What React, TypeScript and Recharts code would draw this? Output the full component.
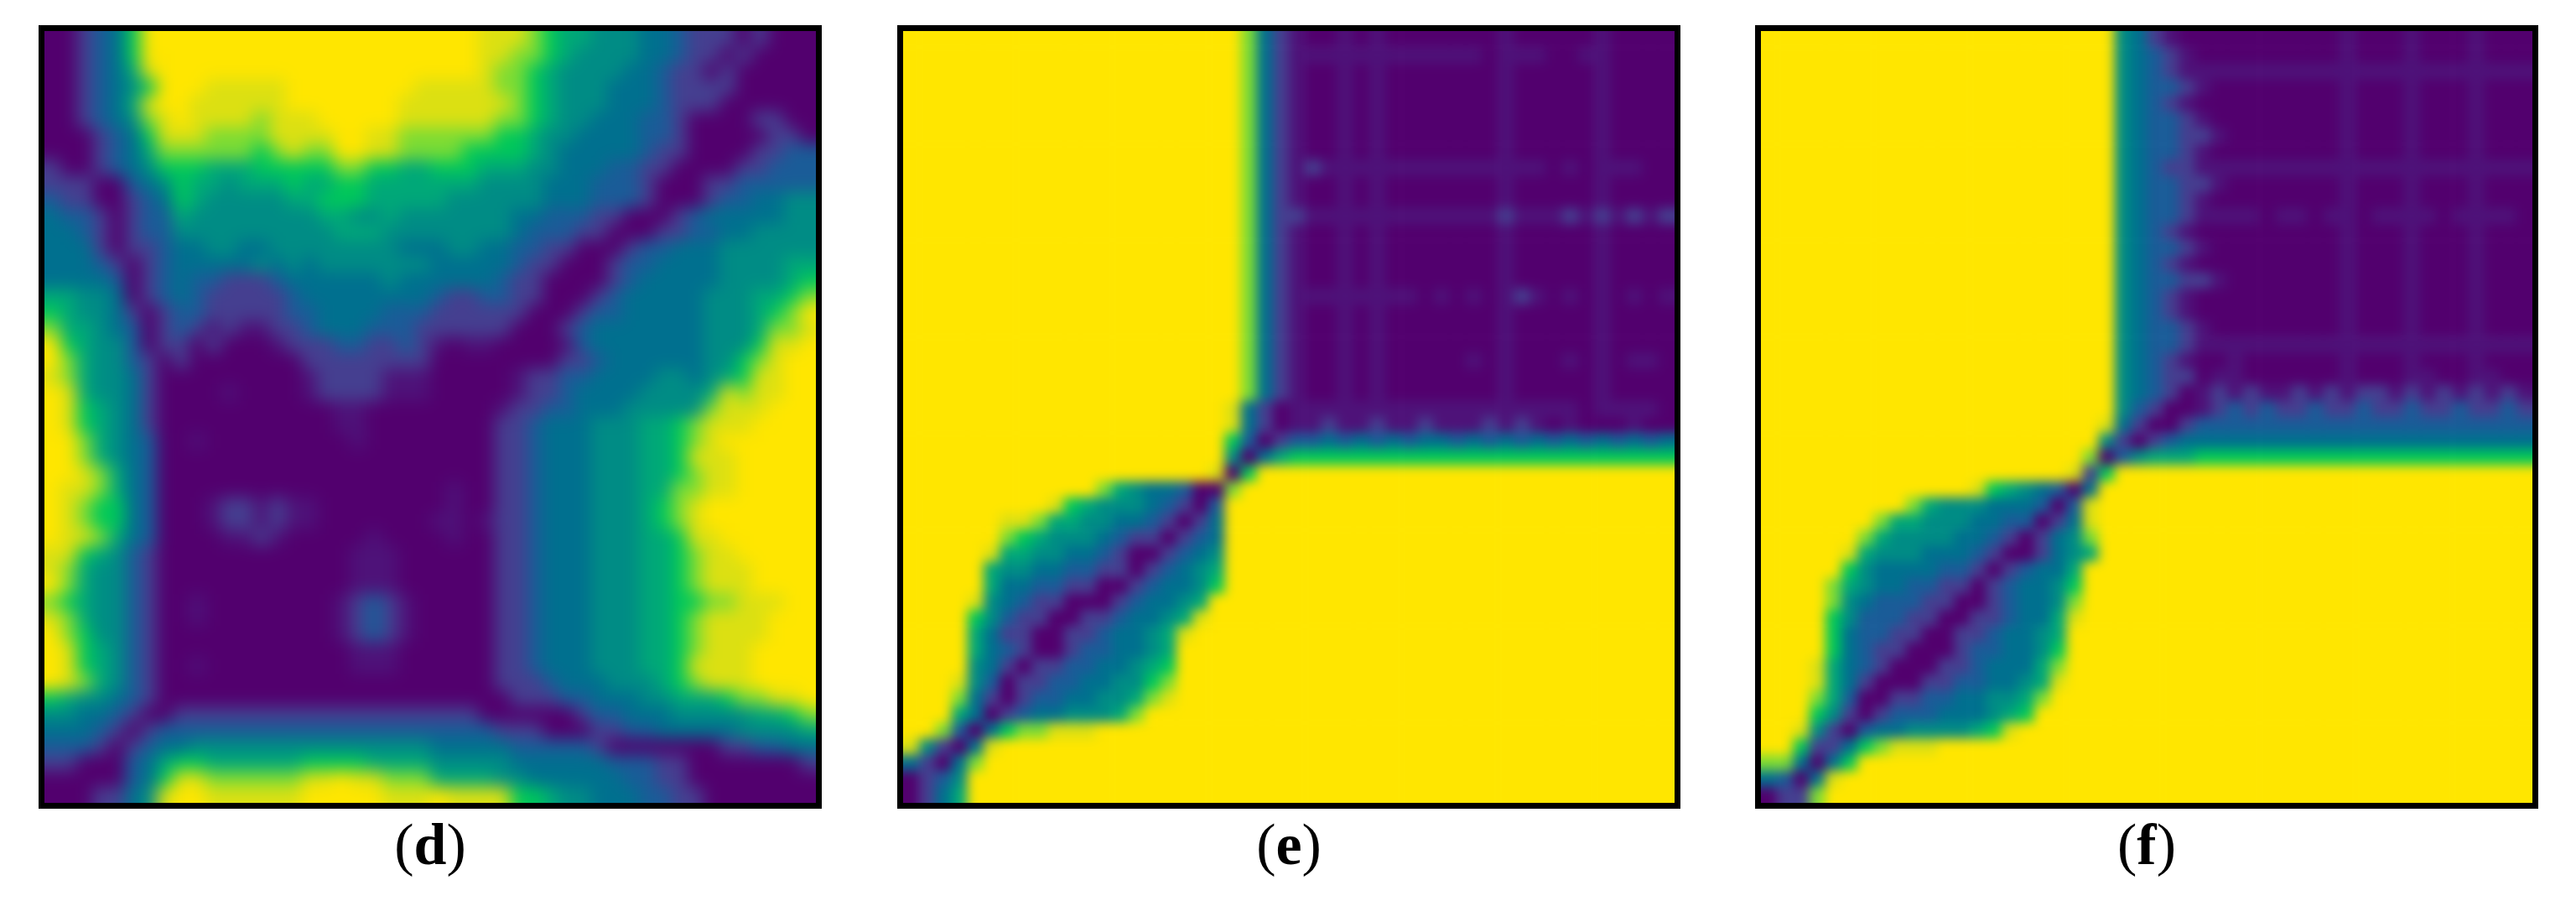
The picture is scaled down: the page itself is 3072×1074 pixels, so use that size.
import { ScatterChart, Scatter, XAxis, YAxis } from "recharts"

// colour per level, dark purple to yellow, a is only a hair above 0
const levels: Record<string, string> = {
  "0": "#52006e",
  a: "#4e1279",
  "1": "#453f90",
  "2": "#1a5c98",
  "3": "#00708f",
  "4": "#008c85",
  "5": "#00a878",
  "6": "#00c85a",
  "7": "#7cdc34",
  "8": "#dce012",
  "9": "#ffe600",
}

// rows top to bottom, one digit per cell, groups of 8 only to keep counting easy
const dRows = [
  "00123699 99999999 99999999 99988876 55444332 11101000",
  "00123699 99999999 99999999 99988776 54444332 11010000",
  "00123589 99999999 99999999 99987765 44443321 10100000",
  "00123469 99888889 99999998 88887765 44433321 11100000",
  "00123589 98888889 99999988 88888765 44433321 11000000",
  "00123478 98888788 89999988 88887765 44333221 00001100",
  "00012368 88777788 88998877 77776654 43333221 00000110",
  "00012357 77777678 77998877 77666654 33333211 00001122",
  "10012346 66555666 66776655 66655544 33322110 00011222",
  "11100234 65545556 55665555 55544443 33222100 01122222",
  "21100123 65444445 56665555 54444443 33222100 01223344",
  "32210122 54444444 45544544 44444332 22110001 23333344",
  "33210122 44444444 44555444 44444322 21100011 22334444",
  "33310112 33443344 44444433 34433221 10001223 33444444",
  "33321012 33333434 34444444 33333211 00012233 33444455",
  "33332012 32211123 33333433 33332110 00012333 33444456",
  "55443012 32111112 33333333 21122110 00123333 34445567",
  "65443101 22111112 23333222 11111100 01223333 34445679",
  "75543201 21a1aa11 23332221 11111000 12333333 34445778",
  "96544201 101000a1 11221121 a0aa0000 a2333333 34446889",
  "97544210 10000000 11111111 00000000 11233333 34467899",
  "87544310 00000000 a1111aaa 00000a11 22333344 34568899",
  "98544310 000a0000 a1111aaa 00000a11 23333444 45878899",
  "98654310 00000000 00aa0000 0000a112 23334444 47888999",
  "98654310 00000000 00aa0000 00001123 33444556 78889999",
  "99754320 0a000000 000a0000 00001123 33444556 78999999",
  "99754320 00000000 00000000 00001123 33444556 88899999",
  "99875320 00000000 00000000 00001123 33444556 78899999",
  "98875320 00000000 00000000 0a001123 33444557 78899999",
  "98766320 00a11a1a a0000000 0a001123 33444567 89999999",
  "98766320 00a11a1a a0000000 aa0a1123 33444567 89999999",
  "98875320 000aa1a0 0000a000 0a001123 33444556 88999999",
  "88654210 00000000 000aaa00 00001123 33444556 78899999",
  "87544210 00000000 000aaa00 00001123 33444556 78889999",
  "97544210 00000000 000aaa00 00001123 33444556 78889999",
  "76544210 0a000000 00a121a0 00001123 33444556 67788899",
  "87544210 0a000000 00a121a0 00001123 33444556 78888999",
  "97644210 00000000 00a121a0 00001123 33444556 78888999",
  "98654210 00000000 000aaa00 00001123 33444556 78889999",
  "98654210 0a000000 000aaa00 00001123 33444556 88889999",
  "98754210 00000000 00000000 00001112 33344456 78889999",
  "65443210 00000000 00000000 00000111 22333445 55677889",
  "44332100 11111111 11111111 11100000 01223334 44445567",
  "33321012 22222222 22222222 22221110 00112233 33344445",
  "22210123 34444444 44444444 33333222 22100000 00112233",
  "11000235 66555555 66665555 44444333 33322211 00000001",
  "00000236 88777777 88988777 55554433 33332211 00000000",
  "00011348 99888888 99999888 98888665 44333221 10000000",
]

const eRows = [
  "99999999 99999999 99999731 a00a0a00 00000a00 000a0000",
  "99999999 99999999 99999731 aaaaaaaa aaaa0aaa 00aa0000",
  "99999999 99999999 99999731 a00a0a00 00000a00 000a0000",
  "99999999 99999999 99999731 a00a0a00 00000a00 000a0000",
  "99999999 99999999 99999731 a00a0a00 00000a00 000a0000",
  "99999999 99999999 99999731 a00a0a00 00000a00 000a0000",
  "99999999 99999999 99999731 a00a0a00 00000a00 000a0000",
  "99999999 99999999 99999731 a00a0a00 00000a00 000a0000",
  "99999999 99999999 99999731 a1aaaaaa aaaaaaaa 0a0aaa00",
  "99999999 99999999 99999731 a00a0a00 00000a00 000a0000",
  "99999999 99999999 99999731 a00a0a00 00000a00 000a0000",
  "99999999 99999999 99999731 1aaaaaaa aaaaa1aa a1a1a1a1",
  "99999999 99999999 99999731 a00a0a00 00000a00 000a0000",
  "99999999 99999999 99999731 a00a0a00 00000a00 000a0000",
  "99999999 99999999 99999731 a00a0a00 00000a00 000a0000",
  "99999999 99999999 99999731 a00a0a00 00000a00 000a0000",
  "99999999 99999999 99999731 aaaaaaaa 0a0a0a1a 0a0a0a0a",
  "99999999 99999999 99999731 a00a0a00 00000a00 000a0000",
  "99999999 99999999 99999731 a00a0a00 00000a00 000a0000",
  "99999999 99999999 99999731 a00a0a00 00000a00 000a0000",
  "99999999 99999999 99999731 a00a0a00 000a0a00 0a0a0aa0",
  "99999999 99999999 99999731 a00a0a00 00000a00 000a0000",
  "99999999 99999999 99999731 a00a0a00 00000a00 000a0000",
  "99999999 99999999 99998310 aaaaaaaa aaaaaaaa aa0aaaa0",
  "99999999 99999999 99998310 aa1aa1aa 1aaa1a1a 0a000a00",
  "99999999 99999999 99996201 22323232 33232323 23232323",
  "99999999 99999999 99994035 66666666 66666666 66666666",
  "99999999 99999999 99980699 99999999 99999999 99999999",
  "99999999 99997543 32007999 99999999 99999999 99999999",
  "99999999 98654443 21029999 99999999 99999999 99999999",
  "99999988 75544332 10139999 99999999 99999999 99999999",
  "99999976 54443211 01239999 99999999 99999999 99999999",
  "99999855 44332100 12349999 99999999 99999999 99999999",
  "99999544 33221101 23459999 99999999 99999999 99999999",
  "99999533 22110012 33469999 99999999 99999999 99999999",
  "99998432 11000123 34599999 99999999 99999999 99999999",
  "99996421 10011233 45899999 99999999 99999999 99999999",
  "99995311 00112334 58999999 99999999 99999999 99999999",
  "99995321 00122334 59999999 99999999 99999999 99999999",
  "99994310 11223345 69999999 99999999 99999999 99999999",
  "99984201 12233446 79999999 99999999 99999999 99999999",
  "99973101 22334457 89999999 99999999 99999999 99999999",
  "99953012 33444579 99999999 99999999 99999999 99999999",
  "99720367 78889999 99999999 99999999 99999999 99999999",
  "84103899 99999999 99999999 99999999 99999999 99999999",
  "31037999 99999999 99999999 99999999 99999999 99999999",
  "01249999 99999999 99999999 99999999 99999999 99999999",
  "01359999 99999999 99999999 99999999 99999999 99999999",
]

const fRows = [
  "99999999 99999999 99999943 1a000000 0000a000 a000a000",
  "99999999 99999999 99999943 21a00000 0000a000 a000a000",
  "99999999 99999999 99999943 21aaaaaa aaaaaaaa aaaaaaaa",
  "99999999 99999999 99999943 221a0000 0000a000 a000a000",
  "99999999 99999999 99999943 21a00000 0000a000 a000a000",
  "99999999 99999999 99999943 221a0000 0000a000 a000a000",
  "99999999 99999999 99999943 2211a000 0000a000 a000a000",
  "99999999 99999999 99999943 221a0000 0000a000 a000a000",
  "99999999 99999999 99999943 211aaaaa aaaaaaaa aaaaaaaa",
  "99999999 99999999 99999943 2211a000 0000a000 a000a000",
  "99999999 99999999 99999943 221a0000 0000a000 a000a000",
  "99999999 99999999 99999943 221aaaa0 aa0aa0aa aa0aaaa0",
  "99999999 99999999 99999943 21a00000 0000a000 a000a000",
  "99999999 99999999 99999943 221a0000 0000a000 a000a000",
  "99999999 99999999 99999943 21a00000 0000a000 a000a000",
  "99999999 99999999 99999943 2211a000 0000a000 a000a000",
  "99999999 99999999 99999943 21a00000 0000a000 a000a000",
  "99999999 99999999 99999943 21a00000 0000a000 a000a000",
  "99999999 99999999 99999943 221a0000 0000a000 a000a000",
  "99999999 99999999 99999943 221aaaaa aaaaaaaa aaaaaaaa",
  "99999999 99999999 99999943 21a00a00 0000a000 a000a000",
  "99999999 99999999 99999943 2110aa00 0000a000 aa00aa00",
  "99999999 99999999 99999943 210a1a1a a1a1a11a 1a1a1a1a",
  "99999999 99999999 99999942 100a1212 11211211 21121121",
  "99999999 99999999 99999831 00122222 22222222 22222222",
  "99999999 99999999 99999410 12333333 33333333 33333333",
  "99999999 99999999 99997024 55566666 66666666 66666666",
  "99999999 99999999 99981699 99999999 99999999 99999999",
  "99999999 99999865 43203999 99999999 99999999 99999999",
  "99999999 97544433 32028999 99999999 99999999 99999999",
  "99999997 55444332 20138999 99999999 99999999 99999999",
  "99999975 44443321 01347999 99999999 99999999 99999999",
  "99999854 44333210 01345999 99999999 99999999 99999999",
  "99999643 33322101 23359999 99999999 99999999 99999999",
  "99997543 32211012 33469999 99999999 99999999 99999999",
  "99997432 22110012 33479999 99999999 99999999 99999999",
  "99996422 21100112 33589999 99999999 99999999 99999999",
  "99996322 11001123 34599999 99999999 99999999 99999999",
  "99996321 10001223 34699999 99999999 99999999 99999999",
  "99985321 00011233 35799999 99999999 99999999 99999999",
  "99985310 00112233 45899999 99999999 99999999 99999999",
  "99975200 11223344 57999999 99999999 99999999 99999999",
  "99964101 22233345 69999999 99999999 99999999 99999999",
  "99841023 34444568 99999999 99999999 99999999 99999999",
  "99611367 88899999 99999999 99999999 99999999 99999999",
  "77303699 99999999 99999999 99999999 99999999 99999999",
  "32038999 99999999 99999999 99999999 99999999 99999999",
  "01179999 99999999 99999999 99999999 99999999 99999999",
]

const panelLabels = ["d", "e", "f"]
const panelRows = [dRows, eRows, fRows]
const panelLeft = [53, 1077, 2100]
const panelBlur = [10, 7, 7]

const GRID = 48
const PLOT = 920
const CELL = PLOT / GRID
const BORDER = 7
const BLEED = 40

const toCells = (rows: string[]) =>
  rows.flatMap((row, r) =>
    row
      .replace(/ /g, "")
      .split("")
      .map((d, c) => ({ x: c + 0.5, y: r + 0.5, v: d, r, c })),
  )

// one heatmap cell, outer cells run on under the frame so the blur has no pale edge
const CellShape = (props: any) => {
  const { cx, cy, payload } = props
  const left = payload.c === 0 ? BLEED : 0
  const right = payload.c === GRID - 1 ? BLEED : 0
  const top = payload.r === 0 ? BLEED : 0
  const bottom = payload.r === GRID - 1 ? BLEED : 0
  return (
    <rect
      x={cx - CELL / 2 - left}
      y={cy - CELL / 2 - top}
      width={CELL + 0.6 + left + right}
      height={CELL + 0.6 + top + bottom}
      fill={levels[payload.v]}
    />
  )
}

function Panel({ rows, label, left, blur }: { rows: string[]; label: string; left: number; blur: number }) {
  const data = toCells(rows)
  return (
    <>
      <div
        style={{
          position: "absolute",
          left: left - BORDER,
          top: 37 - BORDER,
          width: PLOT + 2 * BORDER,
          height: PLOT + 2 * BORDER,
          overflow: "hidden",
        }}
      >
        <div style={{ position: "absolute", left: BORDER - BLEED, top: BORDER - BLEED, filter: `blur(${blur}px)` }}>
          <ScatterChart
            width={PLOT + 2 * BLEED}
            height={PLOT + 2 * BLEED}
            margin={{ top: BLEED, right: BLEED, bottom: BLEED, left: BLEED }}
          >
            <XAxis type="number" dataKey="x" domain={[0, GRID]} hide />
            <YAxis type="number" dataKey="y" domain={[0, GRID]} reversed hide />
            <Scatter data={data} shape={CellShape} isAnimationActive={false} />
          </ScatterChart>
        </div>
        <div
          style={{
            position: "absolute",
            inset: 0,
            boxSizing: "border-box",
            border: `${BORDER}px solid #000`,
          }}
        />
      </div>
      <div
        style={{
          position: "absolute",
          left: left,
          width: PLOT,
          top: 969,
          textAlign: "center",
          fontFamily: "'Liberation Serif', serif",
          fontSize: 70,
          lineHeight: "76px",
          color: "#000",
        }}
      >
        (<b>{label}</b>)
      </div>
    </>
  )
}

export default function App() {
  return (
    <div style={{ position: "absolute", left: 0, top: 0, width: 3072, height: 1074, background: "#fff", overflow: "hidden" }}>
      {panelLabels.map((label, i) => (
        <Panel key={label} rows={panelRows[i]} label={label} left={panelLeft[i]} blur={panelBlur[i]} />
      ))}
    </div>
  )
}
